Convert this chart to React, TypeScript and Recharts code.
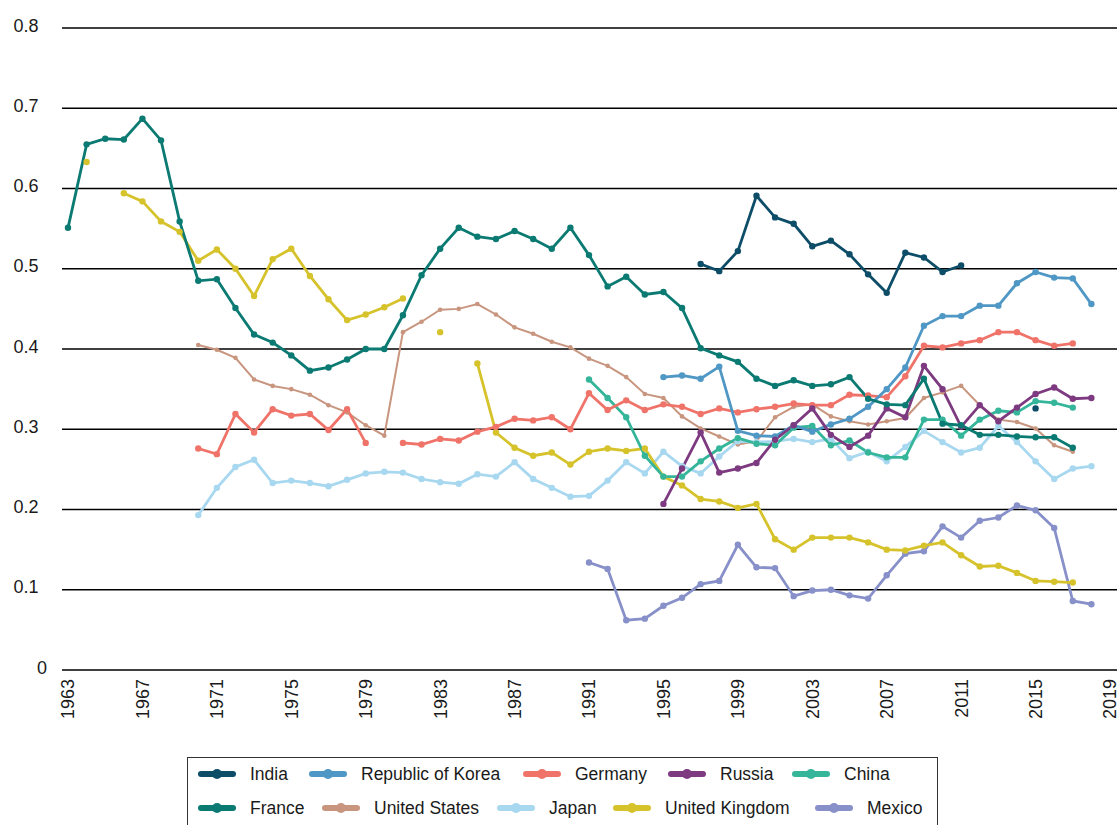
import React from 'react'
import { LineChart, Line, XAxis, YAxis, CartesianGrid } from 'recharts'

const FIRST_YEAR = 1963
const LAST_YEAR = 2018

const xTicks = [1963, 1967, 1971, 1975, 1979, 1983, 1987, 1991, 1995, 1999, 2003, 2007, 2011, 2015, 2019]
const yTicks = [0, 0.1, 0.2, 0.3, 0.4, 0.5, 0.6, 0.7, 0.8]

// each series starts at the given year; null = no value for that year
const franceStart = 1963
const france = [
  0.551, 0.655, 0.662, 0.661, 0.687, 0.66, 0.559, 0.485, 0.487, 0.451,
  0.418, 0.408, 0.392, 0.373, 0.377, 0.387, 0.4, 0.4, 0.442, 0.492,
  0.525, 0.551, 0.54, 0.537, 0.547, 0.537, 0.525, 0.551, 0.517, 0.478,
  0.49, 0.468, 0.471, 0.451, 0.401, 0.392, 0.384, 0.363, 0.354, 0.361,
  0.354, 0.356, 0.365, 0.338, 0.331, 0.33, 0.363, 0.307, 0.305, 0.293,
  0.293, 0.291, 0.29, 0.29, 0.277,
]

const indiaStart = 1997
const india = [
  0.506, 0.497, 0.522, 0.591, 0.564, 0.556, 0.528, 0.535, 0.518, 0.493,
  0.47, 0.52, 0.514, 0.496, 0.504, null, null, null, 0.326,
]

const koreaStart = 1995
const korea = [
  0.365, 0.367, 0.363, 0.378, 0.298, 0.292, 0.291, 0.305, 0.297, 0.306,
  0.313, 0.328, 0.35, 0.377, 0.429, 0.441, 0.441, 0.454, 0.454, 0.482,
  0.496, 0.489, 0.488, 0.456,
]

const germanyStart = 1970
const germany = [
  0.276, 0.269, 0.319, 0.296, 0.325, 0.317, 0.319, 0.299, 0.325, 0.283,
  null, 0.283, 0.281, 0.288, 0.286, 0.297, 0.303, 0.313, 0.311, 0.315,
  0.3, 0.345, 0.324, 0.336, 0.324, 0.331, 0.328, 0.319, 0.326, 0.321,
  0.325, 0.328, 0.332, 0.33, 0.33, 0.343, 0.342, 0.34, 0.366, 0.404,
  0.402, 0.407, 0.411, 0.421, 0.421, 0.411, 0.404, 0.407,
]

const russiaStart = 1995
const russia = [
  0.207, 0.251, 0.296, 0.246, 0.251, 0.258, 0.287, 0.305, 0.326, 0.293,
  0.278, 0.292, 0.326, 0.315, 0.379, 0.35, 0.303, 0.33, 0.31, 0.327,
  0.344, 0.352, 0.338, 0.339,
]

const chinaStart = 1991
const china = [
  0.362, 0.339, 0.315, 0.267, 0.241, 0.241, 0.26, 0.276, 0.289, 0.282,
  0.28, 0.302, 0.304, 0.28, 0.286, 0.271, 0.265, 0.265, 0.312, 0.312,
  0.292, 0.312, 0.323, 0.321, 0.335, 0.333, 0.327,
]

const usStart = 1970
const unitedStates = [
  0.405, 0.399, 0.389, 0.362, 0.354, 0.35, 0.343, 0.33, 0.321, 0.305,
  0.292, 0.421, 0.434, 0.449, 0.45, 0.456, 0.443, 0.427, 0.419, 0.409,
  0.402, 0.388, 0.379, 0.365, 0.344, 0.339, 0.316, 0.301, 0.291, 0.281,
  0.285, 0.315, 0.328, 0.331, 0.316, 0.31, 0.306, 0.31, 0.314, 0.339,
  0.346, 0.354, 0.33, 0.312, 0.309, 0.301, 0.28, 0.272,
]

const japanStart = 1970
const japan = [
  0.193, 0.227, 0.253, 0.262, 0.233, 0.236, 0.233, 0.229, 0.237, 0.245,
  0.247, 0.246, 0.238, 0.234, 0.232, 0.244, 0.241, 0.259, 0.238, 0.227,
  0.216, 0.217, 0.236, 0.259, 0.245, 0.272, 0.254, 0.245, 0.266, 0.285,
  0.284, 0.285, 0.288, 0.284, 0.288, 0.264, 0.272, 0.26, 0.278, 0.298,
  0.284, 0.271, 0.277, 0.304, 0.284, 0.26, 0.238, 0.251, 0.254,
]

const ukStart = 1964
const unitedKingdom = [
  0.633, null, 0.594, 0.584, 0.559, 0.546, 0.51, 0.524, 0.5, 0.466,
  0.512, 0.525, 0.491, 0.462, 0.436, 0.443, 0.452, 0.463, null, 0.421,
  null, 0.382, 0.296, 0.277, 0.267, 0.271, 0.256, 0.272, 0.276, 0.273,
  0.276, 0.241, 0.23, 0.213, 0.21, 0.202, 0.207, 0.163, 0.15, 0.165,
  0.165, 0.165, 0.159, 0.15, 0.149, 0.155, 0.159, 0.143, 0.129, 0.13,
  0.121, 0.111, 0.11, 0.109,
]

const mexicoStart = 1991
const mexico = [
  0.134, 0.126, 0.062, 0.064, 0.08, 0.09, 0.107, 0.111, 0.156, 0.128,
  0.127, 0.092, 0.099, 0.1, 0.093, 0.089, 0.118, 0.145, 0.148, 0.179,
  0.165, 0.186, 0.19, 0.205, 0.199, 0.177, 0.086, 0.082,
]

const years: number[] = []
for (let y = FIRST_YEAR; y <= LAST_YEAR; y++) years.push(y)

function atYear(start: number, values: (number | null)[], year: number) {
  const v = values[year - start]
  return v === undefined ? null : v
}

const series = [
  { key: 'india', name: 'India', color: '#0d4d68', start: indiaStart, values: india },
  { key: 'korea', name: 'Republic of Korea', color: '#4f97c4', start: koreaStart, values: korea },
  { key: 'germany', name: 'Germany', color: '#f0736a', start: germanyStart, values: germany },
  { key: 'russia', name: 'Russia', color: '#7d3a80', start: russiaStart, values: russia },
  { key: 'china', name: 'China', color: '#35b59a', start: chinaStart, values: china },
  { key: 'france', name: 'France', color: '#0a7a72', start: franceStart, values: france },
  { key: 'us', name: 'United States', color: '#c8957f', start: usStart, values: unitedStates },
  { key: 'japan', name: 'Japan', color: '#a8d8f0', start: japanStart, values: japan },
  { key: 'uk', name: 'United Kingdom', color: '#d6c32c', start: ukStart, values: unitedKingdom },
  { key: 'mexico', name: 'Mexico', color: '#8790c8', start: mexicoStart, values: mexico },
]

const drawOrder = ['us', 'japan', 'mexico', 'uk', 'china', 'germany', 'korea', 'russia', 'france', 'india']

const rows = years.map((year) => {
  const row: Record<string, number | null> = { year }
  series.forEach((s) => {
    row[s.key] = atYear(s.start, s.values, year)
  })
  return row
})

// legend layout (px from the legend box's inner edge)
const legendRows = [
  { top: 6, items: ['india', 'korea', 'germany', 'russia', 'china'], left: [10, 121, 335, 480, 604] },
  { top: 40, items: ['france', 'us', 'japan', 'uk', 'mexico'], left: [10, 134, 309, 425, 627] },
]

const FONT = '"Liberation Sans", Arial, Helvetica, sans-serif'

function XTick({ x, payload }: any) {
  return (
    <g transform={`translate(${x},679) rotate(-90)`}>
      <text textAnchor="end" dy={6.4} fontSize={18} fontFamily={FONT} fill="#1a1a1a">
        {payload.value}
      </text>
    </g>
  )
}

function YTick({ y, payload }: any) {
  const v = payload.value
  return (
    <text
      x={v === 0 ? 47 : 38.5}
      y={y + 3.6}
      textAnchor="end"
      fontSize={18}
      fontFamily={FONT}
      fill="#1a1a1a"
    >
      {v === 0 ? '0' : v.toFixed(1)}
    </text>
  )
}

function LegendIcon({ color }: { color: string }) {
  return (
    <svg width={38} height={12} style={{ display: 'block' }}>
      <line x1={3} y1={6} x2={35} y2={6} stroke={color} strokeWidth={6} strokeLinecap="round" />
      <circle cx={19} cy={6} r={5} fill={color} />
    </svg>
  )
}

function ChartLegend() {
  return (
    <div
      style={{
        position: 'absolute',
        left: 187,
        top: 757,
        width: 751,
        height: 100,
        border: '1px solid #333',
        boxSizing: 'border-box',
        fontFamily: FONT,
      }}
    >
      {legendRows.map((r) =>
        r.items.map((key, i) => {
          const s = series.find((d) => d.key === key)!
          return (
            <div
              key={key}
              style={{
                position: 'absolute',
                left: r.left[i],
                top: r.top,
                height: 20,
                display: 'flex',
                alignItems: 'center',
                whiteSpace: 'nowrap',
              }}
            >
              <LegendIcon color={s.color} />
              <span style={{ marginLeft: 14, fontSize: 17.5, lineHeight: '20px', color: '#1a1a1a' }}>
                {s.name}
              </span>
            </div>
          )
        })
      )}
    </div>
  )
}

export default function App() {
  return (
    <div
      style={{
        position: 'absolute',
        left: 0,
        top: 0,
        width: 1117,
        height: 825,
        overflow: 'hidden',
        background: '#fff',
      }}
    >
      <LineChart width={1117} height={825} data={rows} margin={{ top: 28, right: 0, bottom: 0, left: 0 }}>
        <CartesianGrid vertical={false} stroke="#000" strokeWidth={1.4} />
        <XAxis
          dataKey="year"
          type="number"
          domain={[1963, 2019]}
          ticks={xTicks}
          interval={0}
          padding={{ left: 6, right: 7 }}
          axisLine={false}
          tickLine={false}
          height={155}
          tick={<XTick />}
        />
        <YAxis
          type="number"
          domain={[0, 0.8]}
          ticks={yTicks}
          interval={0}
          width={62}
          axisLine={false}
          tickLine={false}
          tick={<YTick />}
        />
        {drawOrder.map((key) => {
          const s = series.find((d) => d.key === key)!
          const thin = key === 'us'
          return (
            <Line
              key={key}
              type="linear"
              dataKey={key}
              name={s.name}
              stroke={s.color}
              strokeWidth={thin ? 2 : 2.8}
              dot={{ r: thin ? 2.3 : 3.2, fill: s.color, stroke: 'none', strokeWidth: 0 }}
              activeDot={false}
              connectNulls={false}
              isAnimationActive={false}
            />
          )
        })}
      </LineChart>
      <ChartLegend />
    </div>
  )
}
